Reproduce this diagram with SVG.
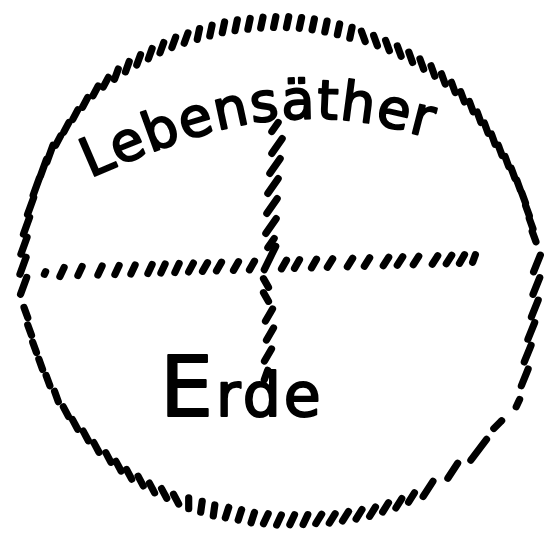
<svg xmlns="http://www.w3.org/2000/svg" xmlns:xlink="http://www.w3.org/1999/xlink" width="544" height="533" viewBox="0 0 544 533">
<style>
.hatch { stroke: #000; stroke-width: 7.2; stroke-linecap: round; fill: none; }
.hand { font-family: "DejaVu Sans", "Noto Sans", sans-serif; fill: #000; stroke: #000; stroke-width: 2; stroke-linejoin: round; }
</style>
<defs>
<line id="a" x1="0" y1="-5.5" x2="0" y2="5.5"/>
<line id="b" x1="0" y1="-9" x2="0" y2="9"/>
<line id="c" x1="0" y1="-4" x2="0" y2="4"/>
<line id="d" x1="0" y1="-13" x2="0" y2="13"/>
<line id="h" x1="0" y1="-5" x2="0" y2="5"/>
<line id="v" x1="0" y1="-7" x2="0" y2="7"/>
<line id="s" x1="0" y1="-1.5" x2="0" y2="1.5"/>
<path id="tp" d="M90,178 C150,152 220,122 290,119 S390,128 440,140"/>
</defs>
<rect width="544" height="533" fill="#fff"/>
<g id="ring" class="hatch" transform="translate(279 268)">
<use href="#a" transform="rotate(-60) translate(0 -255) rotate(88)"/>
<use href="#a" transform="rotate(-56.5) translate(0 -255) rotate(84.5)"/>
<use href="#a" transform="rotate(-53) translate(0 -255) rotate(81)"/>
<use href="#a" transform="rotate(-49.5) translate(0 -255) rotate(77.5)"/>
<use href="#a" transform="rotate(-46) translate(0 -255) rotate(74)"/>
<use href="#a" transform="rotate(-43) translate(0 -254) rotate(71)"/>
<use href="#a" transform="rotate(-40) translate(0 -253) rotate(60)"/>
<use href="#a" transform="rotate(-37) translate(0 -252) rotate(57)"/>
<use href="#a" transform="rotate(-34) translate(0 -251) rotate(54)"/>
<use href="#a" transform="rotate(-31) translate(0 -250) rotate(51)"/>
<use href="#a" transform="rotate(-28) translate(0 -249.5) rotate(48)"/>
<use href="#a" transform="rotate(-25) translate(0 -249) rotate(45)"/>
<use href="#a" transform="rotate(-22) translate(0 -248) rotate(42)"/>
<use href="#a" transform="rotate(-19) translate(0 -247.5) rotate(31)"/>
<use href="#a" transform="rotate(-16) translate(0 -247) rotate(28)"/>
<use href="#a" transform="rotate(-13) translate(0 -247) rotate(25)"/>
<use href="#a" transform="rotate(-10) translate(0 -246.5) rotate(22)"/>
<use href="#a" transform="rotate(-7) translate(0 -246) rotate(19)"/>
<use href="#a" transform="rotate(-4) translate(0 -246) rotate(16)"/>
<use href="#a" transform="rotate(-1) translate(0 -246) rotate(13)"/>
<use href="#a" transform="rotate(2) translate(0 -246) rotate(10)"/>
<use href="#a" transform="rotate(5) translate(0 -246) rotate(7)"/>
<use href="#a" transform="rotate(8) translate(0 -246) rotate(4)"/>
<use href="#a" transform="rotate(11) translate(0 -246) rotate(1)"/>
<use href="#a" transform="rotate(14) translate(0 -246) rotate(-2)"/>
<use href="#a" transform="rotate(17) translate(0 -246) rotate(-5)"/>
<use href="#a" transform="rotate(20) translate(0 -246.5) rotate(-40)"/>
<use href="#a" transform="rotate(23) translate(0 -247) rotate(-43)"/>
<use href="#a" transform="rotate(26) translate(0 -247.5) rotate(-46)"/>
<use href="#a" transform="rotate(29) translate(0 -248) rotate(-49)"/>
<use href="#a" transform="rotate(32) translate(0 -248.5) rotate(-52)"/>
<use href="#a" transform="rotate(35) translate(0 -249) rotate(-55)"/>
<use href="#a" transform="rotate(38) translate(0 -250) rotate(-58)"/>
<use href="#a" transform="rotate(41) translate(0 -250.5) rotate(-61)"/>
<use href="#a" transform="rotate(44) translate(0 -251) rotate(-64)"/>
<use href="#a" transform="rotate(47) translate(0 -251) rotate(-67)"/>
<use href="#a" transform="rotate(50) translate(0 -251) rotate(-70)"/>
<use href="#a" transform="rotate(53) translate(0 -250.5) rotate(-73)"/>
<use href="#a" transform="rotate(56) translate(0 -250) rotate(-76)"/>
<use href="#a" transform="rotate(59) translate(0 -250) rotate(-79)"/>
<use href="#a" transform="rotate(62) translate(0 -250.5) rotate(-82)"/>
<use href="#a" transform="rotate(65) translate(0 -251.5) rotate(-85)"/>
<use href="#a" transform="rotate(68) translate(0 -252.5) rotate(-88)"/>
<use href="#a" transform="rotate(71) translate(0 -253.5) rotate(-91)"/>
<use href="#a" transform="rotate(74) translate(0 -254.5) rotate(-94)"/>
<use href="#a" transform="rotate(77) translate(0 -255) rotate(-97)"/>
<use href="#a" transform="rotate(80) translate(0 -256) rotate(-100)"/>
<use href="#a" transform="rotate(83) translate(0 -257) rotate(-103)"/>
<use href="#b" transform="rotate(89) translate(0 -258) rotate(-67)"/>
<use href="#b" transform="rotate(94) translate(0 -258) rotate(-72)"/>
<use href="#b" transform="rotate(99) translate(0 -259) rotate(-77)"/>
<use href="#b" transform="rotate(104) translate(0 -260) rotate(-82)"/>
<use href="#b" transform="rotate(109) translate(0 -263) rotate(-87)"/>
<use href="#b" transform="rotate(114) translate(0 -269) rotate(-92)"/>
<use href="#c" transform="rotate(119.5) translate(0 -274.5) rotate(-94.5)"/>
<use href="#a" transform="rotate(125.6) translate(0 -269) rotate(-80.6)"/>
<use href="#d" transform="rotate(132.3) translate(0 -270) rotate(-95.3)"/>
<use href="#b" transform="rotate(139.4) translate(0 -267) rotate(-106.4)"/>
<use href="#b" transform="rotate(146) translate(0 -266.5) rotate(-113)"/>
<use href="#a" transform="rotate(150) translate(0 -265) rotate(-118)"/>
<use href="#a" transform="rotate(153) translate(0 -264) rotate(-121)"/>
<use href="#a" transform="rotate(156) translate(0 -262) rotate(-124)"/>
<use href="#a" transform="rotate(159) translate(0 -261) rotate(-127)"/>
<use href="#a" transform="rotate(162) translate(0 -259) rotate(-130)"/>
<use href="#a" transform="rotate(165) translate(0 -257) rotate(-133)"/>
<use href="#a" transform="rotate(168) translate(0 -256) rotate(-136)"/>
<use href="#a" transform="rotate(171) translate(0 -254) rotate(-139)"/>
<use href="#a" transform="rotate(174) translate(0 -253) rotate(-149)"/>
<use href="#a" transform="rotate(177) translate(0 -252) rotate(-152)"/>
<use href="#a" transform="rotate(180) translate(0 -252) rotate(-155)"/>
<use href="#a" transform="rotate(183) translate(0 -251) rotate(-158)"/>
<use href="#a" transform="rotate(186) translate(0 -251) rotate(-168)"/>
<use href="#a" transform="rotate(189) translate(0 -250) rotate(-171)"/>
<use href="#a" transform="rotate(192) translate(0 -250) rotate(-174)"/>
<use href="#a" transform="rotate(195) translate(0 -251) rotate(-187)"/>
<use href="#a" transform="rotate(198) translate(0 -251) rotate(-190)"/>
<use href="#a" transform="rotate(201) translate(0 -252) rotate(-201)"/>
<use href="#a" transform="rotate(204) translate(0 -253) rotate(-232)"/>
<use href="#a" transform="rotate(207) translate(0 -253) rotate(-235)"/>
<use href="#a" transform="rotate(210) translate(0 -254) rotate(-238)"/>
<use href="#a" transform="rotate(213) translate(0 -254) rotate(-241)"/>
<use href="#a" transform="rotate(216) translate(0 -255) rotate(-244)"/>
<use href="#a" transform="rotate(219) translate(0 -255) rotate(-247)"/>
<use href="#a" transform="rotate(222) translate(0 -255) rotate(-250)"/>
<use href="#a" transform="rotate(225.5) translate(0 -256) rotate(-253.5)"/>
<use href="#a" transform="rotate(229) translate(0 -256) rotate(-257)"/>
<use href="#a" transform="rotate(232.5) translate(0 -257) rotate(-260.5)"/>
<use href="#a" transform="rotate(236) translate(0 -257) rotate(-264)"/>
<use href="#a" transform="rotate(240) translate(0 -257) rotate(-260)"/>
<use href="#a" transform="rotate(244) translate(0 -257) rotate(-264)"/>
<use href="#a" transform="rotate(248) translate(0 -257) rotate(-268)"/>
<use href="#a" transform="rotate(252) translate(0 -257) rotate(-272)"/>
<use href="#a" transform="rotate(256) translate(0 -257) rotate(-276)"/>
<use href="#a" transform="rotate(260) translate(0 -257) rotate(-280)"/>
<use href="#b" transform="rotate(266) translate(0 -256) rotate(-246)"/>
<use href="#b" transform="rotate(270.5) translate(0 -256) rotate(-250.5)"/>
<use href="#b" transform="rotate(275) translate(0 -256) rotate(-255)"/>
<use href="#b" transform="rotate(279.5) translate(0 -256) rotate(-259.5)"/>
<use href="#b" transform="rotate(284) translate(0 -256) rotate(-264)"/>
<use href="#b" transform="rotate(288.5) translate(0 -256) rotate(-268.5)"/>
<use href="#b" transform="rotate(293) translate(0 -256) rotate(-273)"/>
<use href="#b" transform="rotate(296.5) translate(0 -256) rotate(-276.5)"/>
</g>
<g id="cross-horizontal" class="hatch">
<use href="#s" transform="translate(45 273) rotate(25)"/>
<use href="#h" transform="translate(62 272) rotate(25)"/>
<use href="#h" transform="translate(80 271) rotate(25)"/>
<use href="#h" transform="translate(100 270.5) rotate(25)"/>
<use href="#h" transform="translate(117 270) rotate(25)"/>
<use href="#h" transform="translate(133 269.5) rotate(25)"/>
<use href="#h" transform="translate(150 269) rotate(25)"/>
<use href="#h" transform="translate(163 268.5) rotate(25)"/>
<use href="#h" transform="translate(177 268) rotate(25)"/>
<use href="#h" transform="translate(191 267.5) rotate(28)"/>
<use href="#h" transform="translate(205 267) rotate(30)"/>
<use href="#h" transform="translate(219 266.5) rotate(30)"/>
<use href="#h" transform="translate(236 266) rotate(30)"/>
<use href="#h" transform="translate(252 265.5) rotate(30)"/>
<use href="#h" transform="translate(284 264.5) rotate(30)"/>
<use href="#h" transform="translate(297 264) rotate(30)"/>
<use href="#h" transform="translate(314 263.5) rotate(30)"/>
<use href="#h" transform="translate(330 263) rotate(32)"/>
<use href="#h" transform="translate(350 262.5) rotate(32)"/>
<use href="#h" transform="translate(367 262) rotate(32)"/>
<use href="#h" transform="translate(386 261.5) rotate(33)"/>
<use href="#h" transform="translate(400 261) rotate(33)"/>
<use href="#h" transform="translate(416 260.5) rotate(33)"/>
<use href="#h" transform="translate(435 260) rotate(33)"/>
<use href="#h" transform="translate(449 259.5) rotate(33)"/>
<use href="#h" transform="translate(462 259) rotate(30)"/>
<use href="#c" transform="translate(474 258.5) rotate(20)"/>
</g>
<g id="cross-vertical" class="hatch">
<use href="#a" transform="translate(275 127) rotate(35)"/>
<use href="#b" transform="translate(277 146) rotate(35)"/>
<use href="#b" transform="translate(275 166) rotate(35)"/>
<use href="#b" transform="translate(273 186) rotate(35)"/>
<use href="#b" transform="translate(272 206) rotate(35)"/>
<use href="#b" transform="translate(271 226) rotate(35)"/>
<use href="#a" transform="translate(271 243) rotate(35)"/>
<use href="#d" transform="translate(270 258) rotate(26)"/>
<use href="#h" transform="translate(266 283) rotate(-30)"/>
<use href="#h" transform="translate(266 297) rotate(-30)"/>
<use href="#v" transform="translate(269 315) rotate(30)"/>
<use href="#v" transform="translate(270 334) rotate(30)"/>
<use href="#v" transform="translate(268 355) rotate(30)"/>
<use href="#h" transform="translate(266 375) rotate(20)"/>
</g>
<g id="label-lebensaether">
<text class="hand" font-size="54" letter-spacing="1.5"><textPath href="#tp">Lebensäther</textPath></text>
</g>
<g id="label-erde">
<text class="hand" x="160" y="416" letter-spacing="3"><tspan font-size="84">E</tspan><tspan font-size="60">rde</tspan></text>
</g>
</svg>
